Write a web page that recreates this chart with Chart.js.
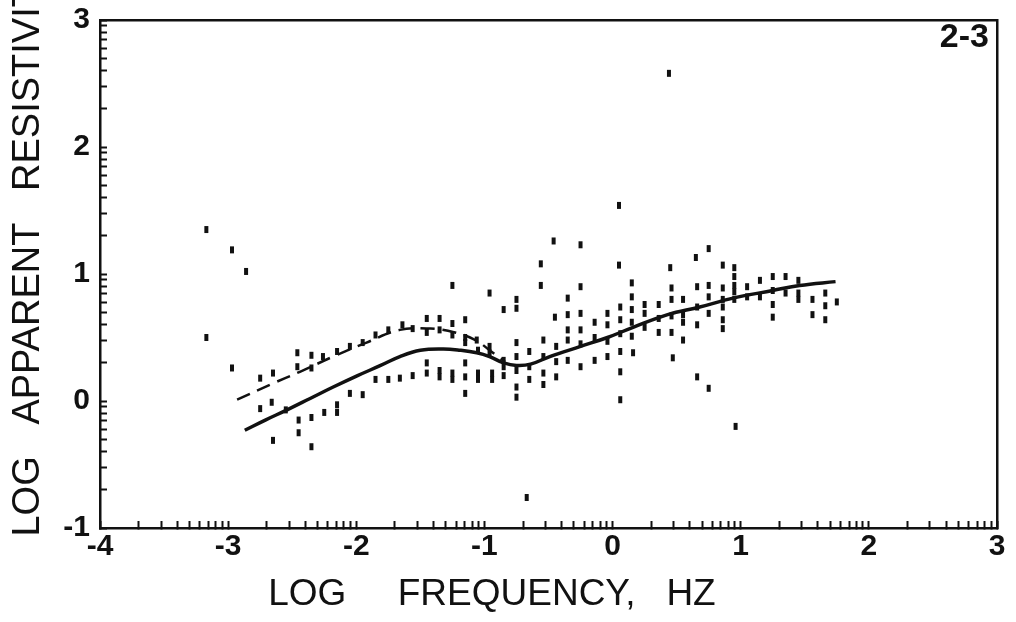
<!DOCTYPE html>
<html>
<head>
<meta charset="utf-8">
<script src="https://cdn.jsdelivr.net/npm/chart.js@4"></script>
<style>
  body { margin: 0; background: #fff; }
  canvas { display: block; }
</style>
</head>
<body>
<canvas id="resChart" width="1016" height="622"></canvas>
<script>
// log frequency (Hz) / log apparent resistivity, one entry per plotted mark
const pointFreq = [
    -3.17, -2.97, -2.86, -3.17, -2.97,
    -2.75, -2.65, -2.46, -2.46, -2.35, -2.35, -2.26, -2.15, -2.05, -1.95, -1.85, -1.75, -1.64, -1.56,
    -1.45, -1.45, -1.35, -1.35, -1.25, -1.25, -1.25, -1.15, -1.15, -1.15, -1.06, -1.05, -0.96, -0.96, -0.96,
    -2.75, -2.66, -2.65, -2.55, -2.45, -2.45, -2.35, -2.35, -2.25, -2.15, -2.15, -2.05, -1.95, -1.85, -1.75,
    -1.66, -1.56, -1.45, -1.45, -1.35, -1.35, -1.25, -1.25, -1.15, -1.15, -1.15, -1.05, -1.05, -0.94, -0.94,
    -0.85, -0.85, -0.85, -0.85, -0.75, -0.75, -0.75, -0.75, -0.75, -0.75, -0.75, -0.67, -0.65, -0.65, -0.65,
    -0.56, -0.56, -0.54, -0.54, -0.54, -0.54, -0.46, -0.45, -0.44, -0.44, -0.44,
    -0.35, -0.35, -0.35, -0.35, -0.35, -0.25, -0.25, -0.25, -0.25, -0.25, -0.25, -0.14, -0.14, -0.14,
    -0.04, -0.04, -0.04, -0.04, 0.05, 0.05, 0.06, 0.06, 0.06, 0.06, 0.06, 0.06,
    0.15, 0.15, 0.15, 0.15, 0.15, 0.16, 0.25, 0.25, 0.25, 0.36, 0.36, 0.36,
    0.44, 0.45, 0.46, 0.46, 0.46, 0.46, 0.47, 0.55, 0.55, 0.55, 0.55,
    0.65, 0.66, 0.66, 0.66, 0.66, 0.75, 0.75, 0.75, 0.75, 0.75,
    0.86, 0.86, 0.86, 0.86, 0.86, 0.86, 0.95, 0.95, 0.95, 0.95, 0.95, 0.96,
    1.05, 1.05, 1.15, 1.15, 1.25, 1.25, 1.25, 1.25, 1.35, 1.35, 1.45, 1.45, 1.45,
    1.56, 1.56, 1.66, 1.66, 1.66, 1.75
];
const pointRho = [
    1.35, 1.19, 1.02, 0.50, 0.26,
    0.18, 0.22, 0.38, 0.27, 0.36, 0.26, 0.35, 0.39, 0.43, 0.46, 0.52, 0.56, 0.60, 0.57,
    0.65, 0.54, 0.65, 0.56, 0.91, 0.61, 0.52, 0.64, 0.50, 0.46, 0.48, 0.40, 0.85, 0.43, 0.38,
    -0.06, -0.01, -0.31, -0.07, -0.15, -0.25, -0.13, -0.36, -0.09, -0.03, -0.09, 0.06, 0.05, 0.17, 0.17,
    0.18, 0.20, 0.30, 0.22, 0.24, 0.19, 0.22, 0.17, 0.30, 0.19, 0.06, 0.22, 0.17, 0.22, 0.17,
    0.72, 0.32, 0.27, 0.20, 0.80, 0.73, 0.46, 0.35, 0.24, 0.11, 0.03, -0.76, 0.39, 0.27, 0.17,
    1.08, 0.91, 0.48, 0.35, 0.22, 0.13, 1.26, 0.66, 0.43, 0.31, 0.19,
    0.81, 0.68, 0.56, 0.48, 0.32, 1.23, 0.90, 0.69, 0.56, 0.45, 0.27, 0.62, 0.50, 0.32,
    0.69, 0.60, 0.47, 0.35, 1.54, 1.07, 0.74, 0.64, 0.53, 0.39, 0.23, 0.01,
    0.93, 0.82, 0.72, 0.62, 0.51, 0.38, 0.76, 0.69, 0.58, 0.76, 0.65, 0.54,
    2.58, 1.05, 0.89, 0.80, 0.67, 0.54, 0.34, 0.80, 0.68, 0.62, 0.48,
    1.13, 0.90, 0.74, 0.60, 0.19, 1.20, 0.91, 0.82, 0.69, 0.10,
    1.07, 0.89, 0.80, 0.74, 0.64, 0.57, 1.05, 0.98, 0.91, 0.86, 0.80, -0.20,
    0.90, 0.82, 0.95, 0.82, 0.98, 0.87, 0.76, 0.66, 0.98, 0.85, 0.95, 0.85, 0.80,
    0.80, 0.68, 0.85, 0.75, 0.64, 0.78
];

// smooth solid curve
const curveFreq = [-2.87, -2.71, -2.54, -2.36, -2.18, -1.99, -1.81, -1.66, -1.50, -1.32, -1.19, -1.06, -0.96,
    -0.85, -0.75, -0.64, -0.49, -0.25, -0.04, 0.16, 0.43, 0.68, 0.94, 1.25, 1.46, 1.74];
const curveRho = [-0.23, -0.15, -0.07, 0.02, 0.11, 0.20, 0.28, 0.35, 0.40, 0.41, 0.40, 0.38, 0.35,
    0.30, 0.28, 0.29, 0.35, 0.43, 0.50, 0.58, 0.68, 0.74, 0.81, 0.87, 0.91, 0.94];

// dashed curve
const dashFreq = [-2.93, -2.67, -2.44, -2.18, -1.92, -1.66, -1.42, -1.23, -1.07, -0.96, -0.84];
const dashRho = [0.01, 0.13, 0.23, 0.35, 0.46, 0.56, 0.57, 0.54, 0.48, 0.40, 0.31];

const xTickLabels = ['-4', '-3', '-2', '-1', '0', '1', '2', '3'];
const yTickLabels = ['-1', '0', '1', '2', '3'];
const panelLabel = '2-3';

const INK = '#111';
const FONT = '"Liberation Sans", Arial, sans-serif';

const toXY = (xs, ys) => xs.map((x, i) => ({ x, y: ys[i] }));

// ticks at n + log10(k) inside every decade, labels only on the whole numbers
function logDecadeTicks(min, max) {
    const ticks = [];
    for (let n = min; n < max; n++) {
        for (let k = 1; k <= 9; k++) ticks.push({ value: n + Math.log10(k) });
    }
    ticks.push({ value: max });
    return ticks;
}

const panelLabelPlugin = {
    id: 'panelLabel',
    afterDraw(chart) {
        const { ctx, chartArea } = chart;
        ctx.save();
        ctx.font = 'bold 34px ' + FONT;
        ctx.fillStyle = INK;
        ctx.textAlign = 'right';
        ctx.textBaseline = 'top';
        ctx.fillText(panelLabel, chartArea.right - 8, chartArea.top + 1);
        ctx.restore();
    }
};

const tickGrid = { drawOnChartArea: false, drawTicks: true, tickLength: -7, tickWidth: 2, color: INK };
const axisBorder = { display: true, width: 2.5, color: INK };

new Chart(document.getElementById('resChart').getContext('2d'), {
    type: 'scatter',
    data: {
        datasets: [
            {
                label: 'data',
                data: toXY(pointFreq, pointRho),
                pointStyle: 'line',
                rotation: 90,
                radius: 3.5,
                borderWidth: 4,
                borderColor: INK,
                backgroundColor: INK,
            },
            {
                label: 'model',
                data: toXY(curveFreq, curveRho),
                showLine: true,
                tension: 0.4,
                borderColor: INK,
                borderWidth: 3.5,
                pointRadius: 0,
            },
            {
                label: 'model 2',
                data: toXY(dashFreq, dashRho),
                showLine: true,
                tension: 0.4,
                borderColor: INK,
                borderWidth: 2.5,
                borderDash: [14, 8],
                pointRadius: 0,
            },
        ],
    },
    options: {
        responsive: false,
        animation: false,
        layout: { padding: { top: 20, right: 19, left: 0, bottom: 0 } },
        plugins: { legend: { display: false }, tooltip: { enabled: false } },
        scales: {
            x: {
                type: 'linear',
                position: 'bottom',
                min: -4,
                max: 3,
                afterBuildTicks: scale => { scale.ticks = logDecadeTicks(-4, 3); },
                afterFit: scale => { scale.height = 94; scale.paddingLeft = 0; scale.paddingRight = 0; },
                grid: tickGrid,
                border: axisBorder,
                ticks: {
                    autoSkip: false,
                    maxRotation: 0,
                    padding: 8,
                    color: INK,
                    font: { family: FONT, size: 30, weight: 'bold' },
                    callback: v => Number.isInteger(v) ? xTickLabels[v + 4] : '',
                },
                title: {
                    display: true,
                    text: 'LOG     FREQUENCY,   HZ           ',
                    color: INK,
                    padding: { top: 6, bottom: 5 },
                    font: { family: FONT, size: 37 },
                },
            },
            y: {
                type: 'linear',
                position: 'left',
                min: -1,
                max: 3,
                afterBuildTicks: scale => { scale.ticks = logDecadeTicks(-1, 3); },
                afterFit: scale => { scale.width = 100; scale.paddingTop = 0; scale.paddingBottom = 0; },
                grid: tickGrid,
                border: axisBorder,
                ticks: {
                    autoSkip: false,
                    padding: 17,
                    color: INK,
                    font: { family: FONT, size: 30, weight: 'bold' },
                    callback: v => Number.isInteger(v) ? yTickLabels[v + 1] : '',
                },
                title: {
                    display: true,
                    text: '     LOG   APPARENT   RESISTIVITY',
                    color: INK,
                    padding: { top: 6, bottom: 0 },
                    font: { family: FONT, size: 38 },
                },
            },
            // plain frame on the top and right
            x2: {
                type: 'linear',
                position: 'top',
                afterFit: scale => { scale.height = 0; },
                grid: { display: false, drawTicks: false },
                ticks: { display: false },
                border: axisBorder,
            },
            y2: {
                type: 'linear',
                position: 'right',
                afterFit: scale => { scale.width = 0; },
                grid: { display: false, drawTicks: false },
                ticks: { display: false },
                border: axisBorder,
            },
        },
    },
    plugins: [panelLabelPlugin],
});
</script>
</body>
</html>
